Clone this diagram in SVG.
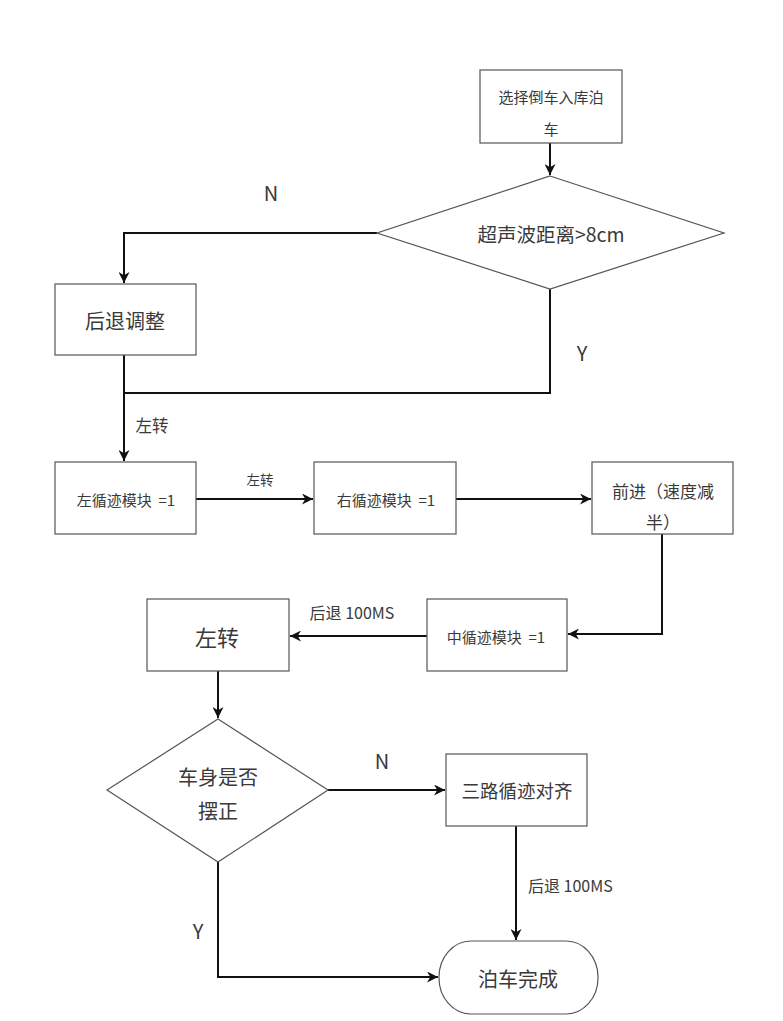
<svg xmlns="http://www.w3.org/2000/svg" width="783" height="1021" viewBox="0 0 783 1021">
<style>
.n{fill:#fff;stroke:#555;stroke-width:1.2}
.t{font-family:"Noto Sans CJK SC","Liberation Sans",sans-serif;fill:#3a3a3a;text-anchor:middle;dominant-baseline:central}
.s{text-anchor:start}
.l{fill:none;stroke:#111;stroke-width:2}
</style>
<defs>
<marker id="a" viewBox="0 0 10 10" refX="10" refY="5" markerWidth="5.5" markerHeight="5.5" orient="auto" markerUnits="strokeWidth">
<path d="M0,0 L10,5 L0,10 L3,5 z" fill="#111"/>
</marker>
</defs>
<rect width="783" height="1021" fill="#fff"/>
<g id="connectors">
<path class="l" d="M550,143 V175" marker-end="url(#a)"/>
<path class="l" d="M377,233 H124 V283" marker-end="url(#a)"/>
<path class="l" d="M550,289 V393 H124"/>
<path class="l" d="M124,355 V461" marker-end="url(#a)"/>
<path class="l" d="M196,499 H313" marker-end="url(#a)"/>
<path class="l" d="M456,499 H591" marker-end="url(#a)"/>
<path class="l" d="M662,534 V634 H568" marker-end="url(#a)"/>
<path class="l" d="M427,636 H290" marker-end="url(#a)"/>
<path class="l" d="M218,671 V718" marker-end="url(#a)"/>
<path class="l" d="M328,790 H445" marker-end="url(#a)"/>
<path class="l" d="M516,826 V940" marker-end="url(#a)"/>
<path class="l" d="M218,862 V977 H438" marker-end="url(#a)"/>
<text class="t" x="271" y="192" font-size="20">N</text>
<text class="t" x="582" y="352" font-size="20">Y</text>
<text class="t" x="152" y="425" font-size="16.5">左转</text>
<text class="t" x="260" y="479" font-size="13.5">左转</text>
<text class="t" x="352" y="612" font-size="16">后退 100MS</text>
<text class="t" x="382" y="760" font-size="20">N</text>
<text class="t" x="198" y="930" font-size="20">Y</text>
<text class="t s" x="528" y="885" font-size="16">后退 100MS</text>
</g>
<g id="start">
<rect class="n" x="480" y="70" width="142" height="73"/>
<text class="t" x="551" y="96" font-size="15">选择倒车入库泊</text>
<text class="t" x="551" y="128" font-size="15">车</text>
</g>
<g id="check1">
<polygon class="n" points="550,176 724,233 550,289 377,233"/>
<text class="t" x="551" y="233" font-size="19.5">超声波距离&gt;8cm</text>
</g>
<g id="back">
<rect class="n" x="55" y="284" width="141" height="71"/>
<text class="t" x="125" y="320" font-size="20">后退调整</text>
</g>
<g id="left1">
<rect class="n" x="55" y="462" width="141" height="72"/>
<text class="t" x="126" y="499" font-size="15">左循迹模块&#160; =1</text>
</g>
<g id="right1">
<rect class="n" x="314" y="462" width="142" height="72"/>
<text class="t" x="386" y="499" font-size="15">右循迹模块&#160; =1</text>
</g>
<g id="forward">
<rect class="n" x="592" y="462" width="141" height="72"/>
<text class="t" x="663" y="490" font-size="17">前进（速度减</text>
<text class="t" x="663" y="521" font-size="17">半）</text>
</g>
<g id="mid">
<rect class="n" x="427" y="599" width="140" height="72"/>
<text class="t" x="496" y="636" font-size="15">中循迹模块&#160; =1</text>
</g>
<g id="turnleft">
<rect class="n" x="147" y="599" width="142" height="72"/>
<text class="t" x="217" y="636" font-size="22">左转</text>
</g>
<g id="check2">
<polygon class="n" points="218,719 328,790 218,862 107,790"/>
<text class="t" x="218" y="776" font-size="20">车身是否</text>
<text class="t" x="218" y="810" font-size="20">摆正</text>
</g>
<g id="align">
<rect class="n" x="446" y="754" width="141" height="72"/>
<text class="t" x="517" y="790" font-size="18.5">三路循迹对齐</text>
</g>
<g id="done">
<rect class="n" x="439" y="941" width="159" height="73" rx="32" ry="36"/>
<text class="t" x="518" y="978" font-size="20">泊车完成</text>
</g>
</svg>
